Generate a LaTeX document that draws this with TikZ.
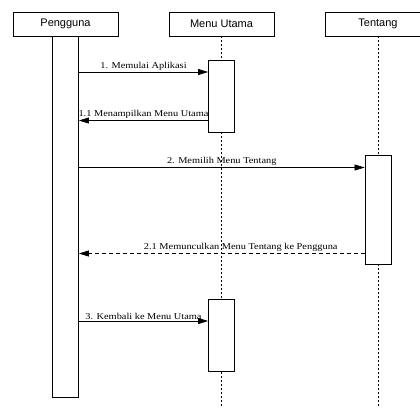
\documentclass[tikz,border=0pt]{standalone}
\usepackage{fontspec}
\setmainfont{Liberation Serif}
\setsansfont{Liberation Sans}
\newfontfamily\lblfont[FakeStretch=1.15]{Liberation Serif}
\usetikzlibrary{arrows.meta}
\begin{document}
\begin{tikzpicture}[x=1pt,y=-1pt,
  head/.style={draw, line width=0.8pt, minimum width=105pt, minimum height=24pt, inner sep=0pt,
    font=\sffamily\fontsize{11}{12}\selectfont},
  act/.style={draw, fill=white, line width=0.8pt, minimum width=26pt, inner sep=0pt},
  life/.style={line width=0.8pt, dash pattern=on 2pt off 2pt},
  msg/.style={line width=0.7pt, -{Triangle[length=10pt,width=6pt]}},
  ret/.style={msg, dash pattern=on 4pt off 3pt},
  lbl/.style={font=\lblfont\fontsize{9}{10}\selectfont, inner sep=1pt, above=0.5pt}]
\path[use as bounding box] (0,0) rectangle (420,407);
\clip (0,0) rectangle (420,407);
% headers
\node[head] (pg) at (65.5,24) {Pengguna};
\node[head] (mu) at (221.5,24) {Menu Utama};
\node[head] (tt) at (378,24) {Tentang};
% lifelines
\coordinate (muend) at (221.5,407);
\coordinate (ttend) at (378,407);
\draw[life] (mu.south) -- (muend);
\draw[life] (tt.south) -- (ttend);
% activations
\node[act, minimum height=361pt] (pa) at (65.5,216.5) {};
\node[act, minimum height=72pt] (ma1) at (221.5,96) {};
\node[act, minimum height=72.5pt] (ma2) at (221.5,335.5) {};
\node[act, minimum height=108.5pt] (ta) at (378,210) {};
% messages
\draw[msg] (pa.east |- 0,72) -- node[lbl] {1. Memulai Aplikasi} (ma1.west |- 0,72);
\draw[msg] (ma1.west |- 0,120.5) -- node[lbl] {1.1 Menampilkan Menu Utama} (pa.east |- 0,120.5);
\draw[msg] (pa.east |- 0,167.5) -- node[lbl] {2. Memilih Menu Tentang} (ta.west |- 0,167.5);
\draw[ret] (ta.west |- 0,253.5) -- node[lbl, xshift=19pt] {2.1 Memunculkan Menu Tentang ke Pengguna} (pa.east |- 0,253.5);
\draw[msg] (pa.east |- 0,321) -- node[lbl] {3. Kembali ke Menu Utama} (ma2.west |- 0,321);
\end{tikzpicture}
\end{document}
